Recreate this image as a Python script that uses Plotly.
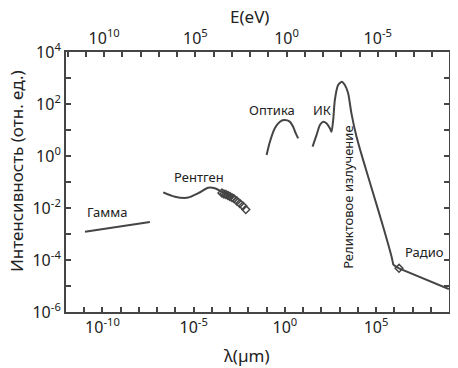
import plotly.graph_objects as go
import numpy as np

# ---- data (lambda in micrometres, intensity in arbitrary units; log10 values)
gamma_loglam = [-10.96, -7.40]
gamma_logI = [-2.91, -2.54]

xray_loglam = [-6.67, -6.03, -5.30, -4.75, -4.20, -3.84, -3.47, -3.19, -2.83]
xray_logI = [-1.40, -1.565, -1.60, -1.43, -1.22, -1.24, -1.37, -1.47, -1.63]

xray_pts_loglam = [-3.45, -3.34, -3.23, -3.12, -3.01, -2.90, -2.79, -2.63, -2.47, -2.30, -2.14]
xray_pts_logI = [-1.42, -1.46, -1.48, -1.52, -1.56, -1.60, -1.64, -1.73, -1.83, -1.92, -2.06]

opt_loglam = [-1.00, -0.82, -0.55, -0.27, -0.05, 0.27, 0.45, 0.60, 0.73]
opt_logI = [0.04, 0.55, 1.07, 1.32, 1.38, 1.32, 1.13, 0.87, 0.68]

ir_cmb_loglam = [1.52, 1.74, 1.92, 2.10, 2.28, 2.47, 2.56, 2.65, 2.74, 2.92, 3.12,
                 3.29, 3.47, 3.65, 3.93, 4.29, 4.84, 5.39, 5.85, 5.95]
ir_cmb_logI = [0.36, 0.81, 1.19, 1.32, 1.26, 1.07, 0.93, 1.38, 2.15, 2.73, 2.86,
               2.73, 2.41, 1.64, 0.74, -0.15, -1.43, -2.72, -3.87, -4.19]

radio_loglam = [5.95, 6.26, 8.99]
radio_logI = [-4.19, -4.32, -5.12]
radio_pt_loglam = [6.26]
radio_pt_logI = [-4.32]

y_ticks = list(range(-6, 5))
y_labels = {4: "10<sup>4</sup>", 2: "10<sup>2</sup>", 0: "10<sup>0</sup>",
            -2: "10<sup>-2</sup>", -4: "10<sup>-4</sup>", -6: "10<sup>-6</sup>"}
x_ticks = list(range(-12, 10))
x_labels = {-10: "10<sup>-10</sup>", -5: "10<sup>-5</sup>", 0: "10<sup>0</sup>", 5: "10<sup>5</sup>"}
e_ticks = list(range(-8, 13))
e_labels = {10: "10<sup>10</sup>", 5: "10<sup>5</sup>", 0: "10<sup>0</sup>", -5: "10<sup>-5</sup>"}

HC = 1.24  # eV*um

def p(v):
    return [10.0 ** a for a in v]

LC = "#454545"
fig = go.Figure()
line = dict(color=LC, width=2)
fig.add_trace(go.Scatter(x=p(gamma_loglam), y=p(gamma_logI), mode="lines", line=line))
fig.add_trace(go.Scatter(x=p(xray_loglam), y=p(xray_logI), mode="lines",
                         line=dict(color=LC, width=2, shape="spline", smoothing=0.8)))
fig.add_trace(go.Scatter(x=p(xray_pts_loglam), y=p(xray_pts_logI), mode="markers",
                         marker=dict(symbol="diamond-open", size=6, color=LC, line=dict(width=1.5, color=LC))))
fig.add_trace(go.Scatter(x=p(opt_loglam), y=p(opt_logI), mode="lines",
                         line=dict(color=LC, width=2, shape="spline", smoothing=0.8)))
fig.add_trace(go.Scatter(x=p(ir_cmb_loglam), y=p(ir_cmb_logI), mode="lines",
                         line=dict(color=LC, width=2, shape="spline", smoothing=0.6)))
fig.add_trace(go.Scatter(x=p(radio_loglam), y=p(radio_logI), mode="lines", line=line))
fig.add_trace(go.Scatter(x=p(radio_pt_loglam), y=p(radio_pt_logI), mode="markers",
                         marker=dict(symbol="diamond-open", size=6, color=LC, line=dict(width=1.5, color=LC))))
# invisible trace so the top energy axis is drawn
fig.add_trace(go.Scatter(x=[HC / 10.0 ** 0], y=[1], xaxis="x2", mode="markers",
                         marker=dict(opacity=0), hoverinfo="skip"))

FONT = "Noto Sans"
TICKF = dict(family=FONT, size=16, color="#222")
axis_common = dict(type="log", showgrid=False, zeroline=False, showline=True,
                   linecolor=LC, linewidth=2, ticks="inside", ticklen=5,
                   tickwidth=1.5, tickcolor=LC, tickfont=TICKF, automargin=False)

# page body adds an 8px offset, so the figure is 8px smaller than the window
fig.update_layout(
    width=450, height=360,
    margin=dict(l=58, r=9, t=44, b=56),
    paper_bgcolor="white", plot_bgcolor="white",
    showlegend=False,
    font=dict(family=FONT, color="#222"),
    xaxis=dict(**axis_common, range=[-12, 9],
               tickvals=[10.0 ** k for k in x_ticks],
               ticktext=[x_labels.get(k, "") for k in x_ticks]),
    xaxis2=dict(**axis_common, overlaying="x", side="top",
                range=[np.log10(HC / 1e-12), np.log10(HC / 1e9)],
                tickvals=[10.0 ** k for k in e_ticks],
                ticktext=[e_labels.get(k, "") for k in e_ticks]),
    yaxis=dict(**axis_common, range=[-6, 4], mirror="ticks",
               tickvals=[10.0 ** k for k in y_ticks],
               ticktext=[y_labels.get(k, "") for k in y_ticks]),
)

TITLEF = dict(family=FONT, size=17, color="#222")
fig.add_annotation(text="λ(µm)", xref="paper", yref="paper", x=0.473, y=-0.169,
                   showarrow=False, font=TITLEF, xanchor="center", yanchor="middle")
fig.add_annotation(text="E(eV)", xref="paper", yref="paper", x=0.48, y=1.138,
                   showarrow=False, font=TITLEF, xanchor="center", yanchor="middle")
fig.add_annotation(text="Интенсивность (отн. ед.)", xref="paper", yref="paper", x=-0.1305, y=0.542,
                   showarrow=False, font=TITLEF, textangle=-90, xanchor="center", yanchor="middle")

ann_font = dict(family=FONT, size=13, color="#222")
labels = [
    ("Гамма", -9.70, -2.15, 0),
    ("Рентген", -4.71, -0.81, 0),
    ("Оптика", -0.71, 1.77, 0),
    ("ИК", 2.03, 1.77, 0),
    ("Радио", 7.67, -3.69, 0),
    ("Реликтовое излучение", 3.45, -1.58, -90),
]
for text, lx, ly, ang in labels:
    fig.add_annotation(x=lx, y=ly, xref="x", yref="y", text=text, showarrow=False,
                       textangle=ang, font=ann_font)

fig.write_html("out.html")
